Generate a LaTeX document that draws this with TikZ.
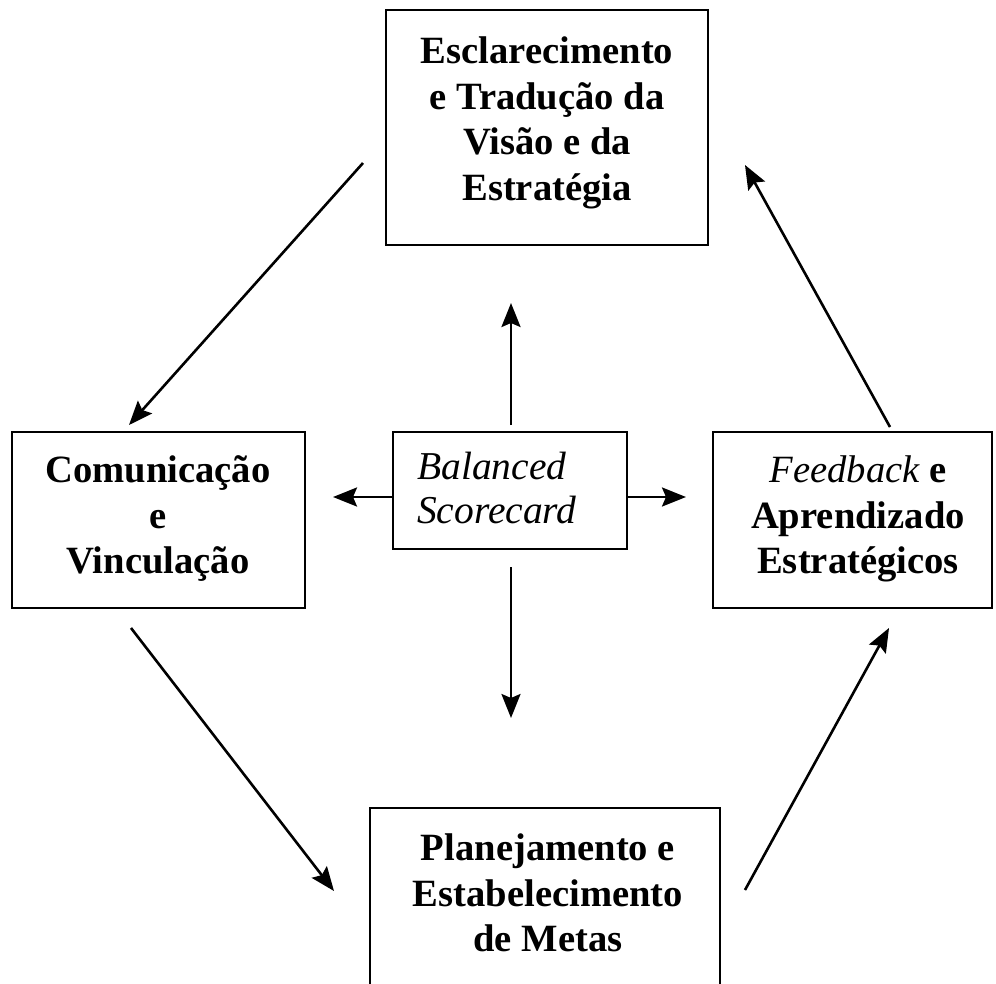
\documentclass[tikz,border=0pt]{standalone}
\usepackage{fontspec}
\setmainfont{Liberation Serif}
\usetikzlibrary{arrows.meta}
\begin{document}
\begin{tikzpicture}[x=1pt,y=-1pt,
  frame/.style={draw, rectangle, line width=2.8pt, inner sep=0pt},
  boldtxt/.style={align=center, inner sep=0pt,
    font=\fontsize{38.6}{45.5}\selectfont\bfseries},
  italtxt/.style={align=left, inner sep=0pt,
    font=\fontsize{39.5}{44}\selectfont\itshape},
  flow/.style={line width=2.6pt, -{Stealth[length=24pt,width=19pt,inset=4pt]}}
]
\useasboundingbox (0,0) rectangle (996,983);
\clip (0,0) rectangle (996,983);

% frames of the five blocks
\node[frame, minimum width=322pt, minimum height=235pt] (vision) at (547,127.5) {};
\node[frame, minimum width=234pt, minimum height=117pt] (bsc) at (510,490.5) {};
\node[frame, minimum width=293pt, minimum height=176pt] (comm) at (158.5,520) {};
\node[frame, minimum width=279pt, minimum height=176pt] (feed) at (852.5,520) {};
\node[frame, minimum width=350pt, minimum height=192pt] (plan) at (545,904) {};

% texts of the blocks
\node[boldtxt] (visiontext) at (547,123) {Esclarecimento\\e Tradução da\\Visão e da\\Estratégia};
\node[italtxt, anchor=west] (bsctext) at (417,488) {Balanced\\Scorecard};
\node[boldtxt] (commtext) at (158,519) {Comunicação\\e\\Vinculação};
\node[boldtxt] (feedtext) at (858,519) {{\mdseries\itshape Feedback} e\\Aprendizado\\Estratégicos};
\node[boldtxt] (plantext) at (548,893) {Planejamento e\\Estabelecimento\\de Metas};

% free ends of the connectors
\coordinate (c1s) at (363,163);  \coordinate (c1e) at (129,425);
\coordinate (c2s) at (131,628);  \coordinate (c2e) at (334,891);
\coordinate (c3s) at (745,890);  \coordinate (c3e) at (889,628);
\coordinate (c4s) at (890,427);  \coordinate (c4e) at (745,165);
\coordinate (upS) at (511,425);  \coordinate (upE) at (511,303);
\coordinate (dnS) at (511,567);  \coordinate (dnE) at (511,718);
\coordinate (ltS) at (bsc.west); \coordinate (ltE) at (333,497);
\coordinate (rtS) at (bsc.east); \coordinate (rtE) at (686,497);

% outer cycle
\draw[flow] (c1s) -- (c1e);
\draw[flow] (c2s) -- (c2e);
\draw[flow] (c3s) -- (c3e);
\draw[flow] (c4s) -- (c4e);

% arrows from the centre block
\draw[flow] (upS) -- (upE);
\draw[flow] (dnS) -- (dnE);
\draw[flow] (ltS |- ltE) -- (ltE);
\draw[flow] (rtS |- rtE) -- (rtE);
\end{tikzpicture}
\end{document}
